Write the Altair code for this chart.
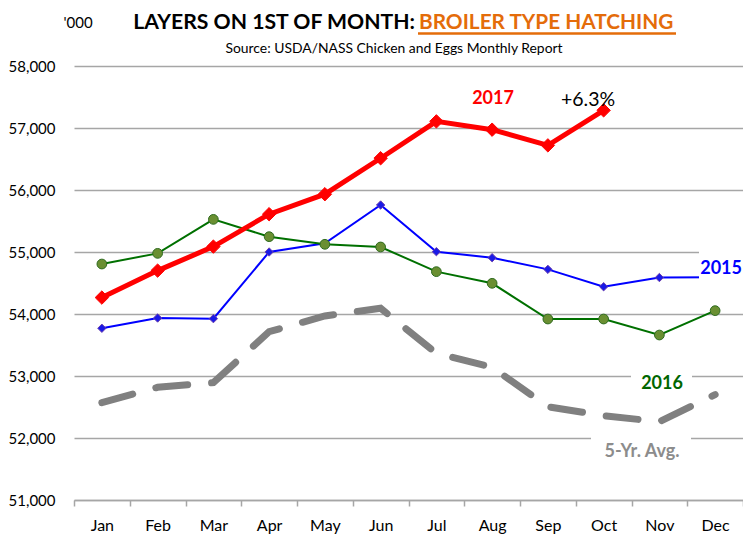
import altair as alt
import pandas as pd

months = ["Jan", "Feb", "Mar", "Apr", "May", "Jun", "Jul", "Aug", "Sep", "Oct", "Nov", "Dec"]
y2015 = [53770, 53935, 53925, 55000, 55140, 55758, 55005, 54908, 54720, 54440, 54588, 54592]
y2016 = [54806, 54978, 55526, 55247, 55124, 55081, 54683, 54495, 53919, 53919, 53661, 54054]
y2017 = [54265, 54700, 55087, 55610, 55932, 56512, 57107, 56973, 56720, 57285]
avg5 = [52569, 52818, 52892, 53715, 53968, 54092, 53366, 53140, 52505, 52360, 52263, 52700]
y_ticks = [51000, 52000, 53000, 54000, 55000, 56000, 57000, 58000]

title_black = "LAYERS ON 1ST OF MONTH:"
title_orange = "BROILER TYPE HATCHING"
subtitle = "Source: USDA/NASS Chicken and Eggs Monthly Report"
unit_label = "'000"
labels = ["2017", "+6.3%", "2015", "2016", "5-Yr. Avg."]

FONT = "Lato"

def frame(vals):
    return pd.DataFrame({"month": months[:len(vals)], "value": vals})

x_enc = alt.X(
    "month:O",
    sort=months,
    scale=alt.Scale(type="band", domain=months, paddingInner=0, paddingOuter=0),
    axis=alt.Axis(
        title=None, labelAngle=0, tickBand="extent", domain=True, domainColor="#A6A6A6",
        domainWidth=1.5, ticks=True, tickColor="#A6A6A6", tickWidth=1.5, tickSize=6,
        labelFont=FONT, labelFontSize=16, labelColor="#000000", labelPadding=11, grid=False,
    ),
)
y_enc = alt.Y(
    "value:Q",
    scale=alt.Scale(domain=[51000, 58000], nice=False, zero=False),
    axis=alt.Axis(
        title=None, values=y_ticks, format=",d", grid=True, gridColor="#A6A6A6", gridWidth=1.5,
        domain=False, ticks=False, tickSize=0, labelFont=FONT, labelFontSize=15,
        labelColor="#000000", labelPadding=19,
    ),
)

avg_line = alt.Chart(frame(avg5)).mark_line(
    color="#808080", strokeWidth=7, strokeDash=[32, 24], strokeCap="round"
).encode(x=x_enc, y=y_enc)

blue_line = alt.Chart(frame(y2015)).mark_line(color="#0000FF", strokeWidth=2).encode(x=x_enc, y=y_enc)
blue_pts = alt.Chart(frame(y2015)).mark_point(
    shape="diamond", size=70, filled=True, fill="#1A1AE6", stroke="#6A3FB0", strokeWidth=1, opacity=1
).encode(x=x_enc, y=y_enc)

green_line = alt.Chart(frame(y2016)).mark_line(color="#007000", strokeWidth=2).encode(x=x_enc, y=y_enc)
green_pts = alt.Chart(frame(y2016)).mark_point(
    shape="circle", size=95, filled=True, fill="#6A8F32", stroke="#2E6B1E", strokeWidth=1, opacity=1
).encode(x=x_enc, y=y_enc)

red_line = alt.Chart(frame(y2017)).mark_line(color="#FF0000", strokeWidth=5).encode(x=x_enc, y=y_enc)
red_pts = alt.Chart(frame(y2017)).mark_point(
    shape="diamond", size=180, filled=True, fill="#FF0000", stroke="#FF0000", strokeWidth=1, opacity=1
).encode(x=x_enc, y=y_enc)

one = pd.DataFrame({"k": [0]})

def box(x1, x2, y1, y2):
    return alt.Chart(one).mark_rect(color="white").encode(
        x=alt.value(x1), x2=alt.value(x2), y=alt.value(y1), y2=alt.value(y2)
    )

boxes = [box(625, 680, 182, 224), box(557, 618, 304, 332), box(517, 617, 364, 404)]

def txt(s, x, y, size, color, weight="bold", align="center", baseline="middle"):
    return alt.Chart(one).mark_text(
        text=s, font=FONT, fontSize=size, fontWeight=weight, color=color,
        align=align, baseline=baseline
    ).encode(x=alt.value(x), y=alt.value(y))

texts = [
    txt(labels[0], 419, 33, 18, "#FF0000"),
    txt(labels[1], 514, 34, 19.5, "#000000", weight="normal"),
    txt(labels[2], 668, 203, 18, "#0000FF", align="right"),
    txt(labels[3], 588, 318, 18, "#006600"),
    txt(labels[4], 568, 386, 18, "#8C8C8C"),
    txt(unit_label, 4, -43, 15, "#000000", weight="normal"),
    txt(title_black, 341, -37, 21.2, "#000000", align="right", baseline="alphabetic"),
    txt(title_orange, 345, -37, 20.8, "#E46C0A", align="left", baseline="alphabetic"),
    txt(subtitle, 320, -13, 13.9, "#000000", weight="normal", baseline="alphabetic"),
]

underline = alt.Chart(one).mark_rule(color="#E46C0A", strokeWidth=2.5).encode(
    x=alt.value(344), x2=alt.value(602), y=alt.value(-32.5)
)

chart = alt.layer(
    avg_line, blue_line, blue_pts, green_line, green_pts, red_line, red_pts,
    *boxes, *texts, underline
).properties(
    width=669, height=434,
    autosize=alt.AutoSizeParams(type="none"),
    padding={"left": 66, "top": 58, "right": 0, "bottom": 35},
    background="white",
).configure_view(stroke=None)

chart.save("out.html", embed_options={"renderer": "svg", "actions": False})
